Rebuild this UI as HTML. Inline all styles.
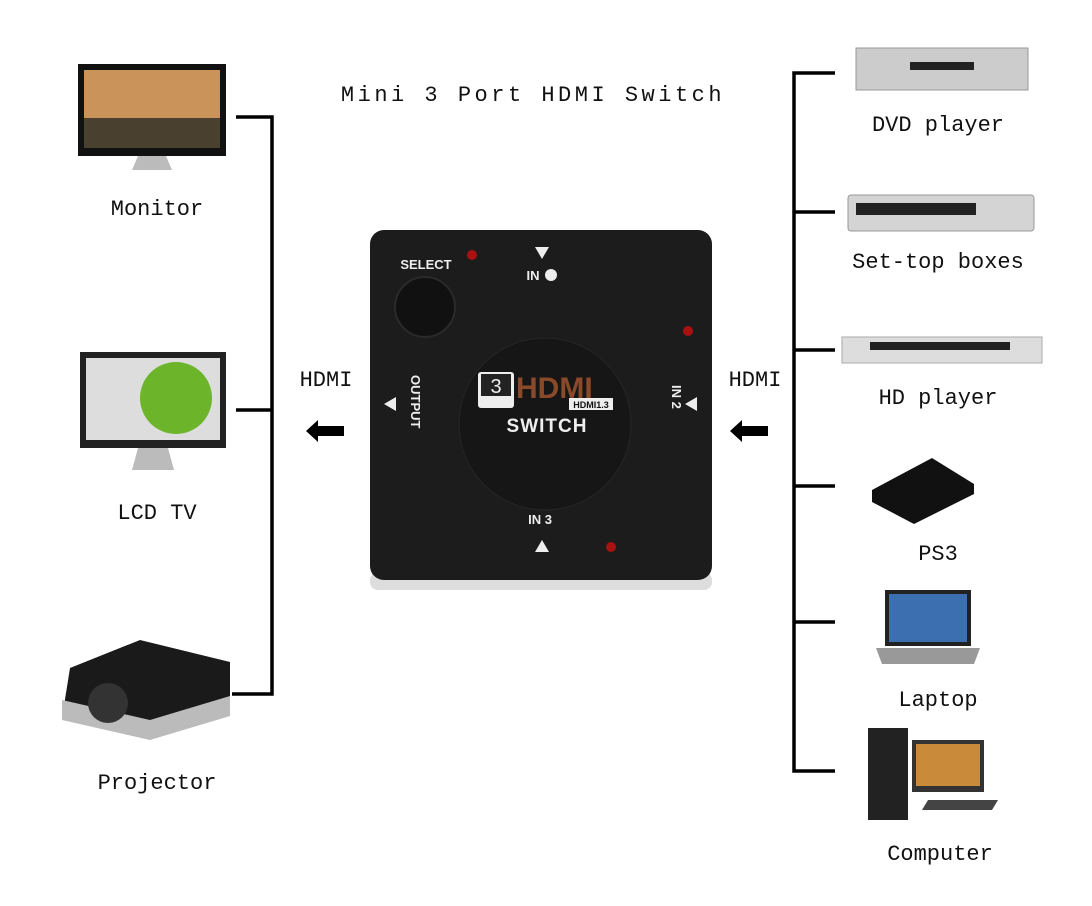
<!DOCTYPE html>
<html><head><meta charset="utf-8"><style>
body{margin:0;background:#fff}
svg{display:block}
.l{font-family:"Liberation Mono",monospace;font-size:22px;fill:#111}
</style></head><body>
<svg width="1092" height="906" viewBox="0 0 1092 906" xmlns="http://www.w3.org/2000/svg">
<text x="533" y="101" class="l" text-anchor="middle" font-size="26" letter-spacing="3.5">Mini 3 Port HDMI Switch</text>
<g stroke="#000" stroke-width="3.5" fill="none">
<path d="M236 117H272V694H232M236 410H272"/>
<path d="M835 73H794V771H835M794 212H835M794 350H835M794 486H835M794 622H835"/>
</g>
<!-- monitor -->
<rect x="78" y="64" width="148" height="92" fill="#111"/>
<rect x="84" y="70" width="136" height="78" fill="#c9935a"/>
<rect x="84" y="118" width="136" height="30" fill="#4a4030"/>
<path d="M138 156h28l6 14h-40z" fill="#bbb"/>
<text x="157" y="215" class="l" text-anchor="middle">Monitor</text>
<!-- LCD TV -->
<rect x="80" y="352" width="146" height="96" fill="#222"/>
<rect x="86" y="358" width="134" height="82" fill="#ddd"/>
<circle cx="176" cy="398" r="36" fill="#6cb52a"/>
<path d="M138 448h30l6 22h-42z" fill="#bbb"/>
<text x="157" y="519" class="l" text-anchor="middle">LCD TV</text>
<!-- projector -->
<path d="M70 668l70-28 90 22v52l-80 24-88-20z" fill="#1a1a1a"/>
<path d="M62 700l88 20 80-24v20l-80 24-88-20z" fill="#bbb"/>
<circle cx="108" cy="703" r="20" fill="#333"/>
<text x="157" y="789" class="l" text-anchor="middle">Projector</text>
<!-- HDMI arrows -->
<text x="326" y="386" class="l" text-anchor="middle">HDMI</text>
<text x="755" y="386" class="l" text-anchor="middle">HDMI</text>
<path d="M306 431l12-11v6h26v10h-26v6z" fill="#000"/>
<path d="M730 431l12-11v6h26v10h-26v6z" fill="#000"/>
<!-- device -->
<rect x="370" y="572" width="342" height="18" rx="8" fill="#ddd"/>
<rect x="370" y="230" width="342" height="350" rx="14" fill="#1c1c1c"/>
<circle cx="545" cy="424" r="86" fill="#161616" stroke="#262626"/>
<circle cx="425" cy="307" r="30" fill="#111" stroke="#2a2a2a" stroke-width="2"/>
<text x="426" y="269" font-family="Liberation Sans" font-weight="bold" font-size="13" fill="#eee" text-anchor="middle">SELECT</text>
<path d="M535 247h14l-7 12z" fill="#eee"/>
<text x="533" y="280" font-family="Liberation Sans" font-weight="bold" font-size="13" fill="#eee" text-anchor="middle">IN</text>
<circle cx="551" cy="275" r="6" fill="#eee"/>
<path d="M535 552h14l-7-12z" fill="#eee"/>
<text x="540" y="524" font-family="Liberation Sans" font-weight="bold" font-size="13" fill="#eee" text-anchor="middle">IN 3</text>
<path d="M384 404l12-7v14z" fill="#eee"/>
<text transform="translate(411,375) rotate(90)" font-family="Liberation Sans" font-weight="bold" font-size="13" fill="#eee">OUTPUT</text>
<path d="M685 404l12-7v14z" fill="#eee"/>
<text transform="translate(672,385) rotate(90)" font-family="Liberation Sans" font-weight="bold" font-size="13" fill="#eee">IN 2</text>
<circle cx="472" cy="255" r="5" fill="#a11"/>
<circle cx="688" cy="331" r="5" fill="#a11"/>
<circle cx="611" cy="547" r="5" fill="#a11"/>
<rect x="478" y="372" width="36" height="36" rx="3" fill="#eee"/>
<rect x="481" y="374" width="30" height="22" fill="#222"/>
<text x="496" y="393" font-family="Liberation Sans" font-size="20" fill="#eee" text-anchor="middle">3</text>
<text x="516" y="398" font-family="Liberation Sans" font-weight="bold" font-size="30" fill="#8a4a2a">HDMI</text>
<rect x="569" y="398" width="44" height="12" fill="#eee"/>
<text x="591" y="408" font-family="Liberation Sans" font-weight="bold" font-size="9" fill="#111" text-anchor="middle">HDMI1.3</text>
<text x="547" y="432" font-family="Liberation Sans" font-weight="bold" font-size="19" fill="#eee" text-anchor="middle" letter-spacing="1">SWITCH</text>
<!-- right devices -->
<rect x="856" y="48" width="172" height="42" fill="#ccc" stroke="#999"/>
<rect x="910" y="62" width="64" height="8" fill="#222"/>
<text x="938" y="131" class="l" text-anchor="middle">DVD player</text>
<rect x="848" y="195" width="186" height="36" rx="3" fill="#d4d4d4" stroke="#999"/>
<rect x="856" y="203" width="120" height="12" fill="#222"/>
<text x="938" y="268" class="l" text-anchor="middle">Set-top boxes</text>
<rect x="842" y="337" width="200" height="26" fill="#ddd" stroke="#aaa"/>
<rect x="870" y="342" width="140" height="8" fill="#222"/>
<text x="938" y="404" class="l" text-anchor="middle">HD player</text>
<path d="M872 490l60-32 42 26v10l-60 30-42-22z" fill="#111"/>
<text x="938" y="560" class="l" text-anchor="middle">PS3</text>
<rect x="885" y="590" width="86" height="56" fill="#222"/>
<rect x="889" y="594" width="78" height="48" fill="#3b6fb0"/>
<path d="M876 648h104l-6 16h-92z" fill="#999"/>
<text x="938" y="706" class="l" text-anchor="middle">Laptop</text>
<rect x="868" y="728" width="40" height="92" fill="#222"/>
<rect x="912" y="740" width="72" height="52" fill="#333"/>
<rect x="916" y="744" width="64" height="42" fill="#c98a3a"/>
<path d="M928 800h70l-6 10h-70z" fill="#444"/>
<text x="940" y="860" class="l" text-anchor="middle">Computer</text>
</svg>
</body></html>
